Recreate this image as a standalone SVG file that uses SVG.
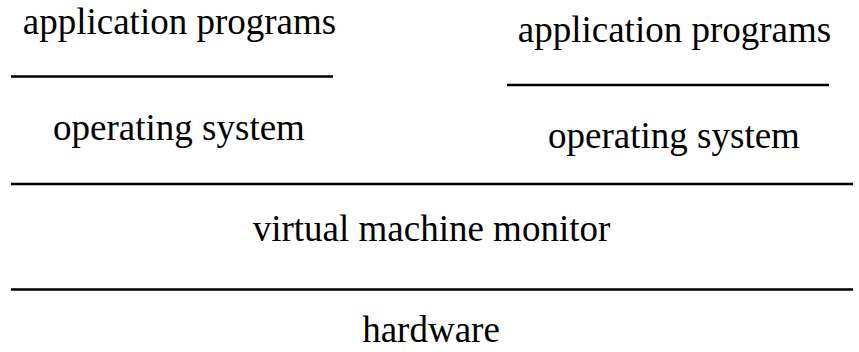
<svg xmlns="http://www.w3.org/2000/svg" width="859" height="352" viewBox="0 0 859 352">
  <style>
    .lbl { font-family: "Liberation Serif", "Times New Roman", serif; font-size: 37px; fill: #000; text-anchor: middle; }
    .sep { stroke: #000; stroke-width: 2.4; fill: none; }
  </style>
  <rect width="859" height="352" fill="#fff"/>
  <g id="guest-left">
    <text class="lbl" x="179.5" y="34">application programs</text>
    <text class="lbl" x="179" y="140">operating system</text>
  </g>
  <g id="guest-right">
    <text class="lbl" x="674.5" y="42">application programs</text>
    <text class="lbl" x="674" y="148">operating system</text>
  </g>
  <g id="vmm">
    <text class="lbl" x="431.5" y="241">virtual machine monitor</text>
  </g>
  <g id="hardware">
    <text class="lbl" x="431" y="342">hardware</text>
  </g>
  <g id="separators">
    <line class="sep" x1="11" y1="76.5" x2="333" y2="76.5"/>
    <line class="sep" x1="507" y1="85" x2="829" y2="85"/>
    <line class="sep" x1="11" y1="184" x2="853" y2="184"/>
    <line class="sep" x1="11" y1="289.5" x2="853" y2="289.5"/>
  </g>
</svg>
